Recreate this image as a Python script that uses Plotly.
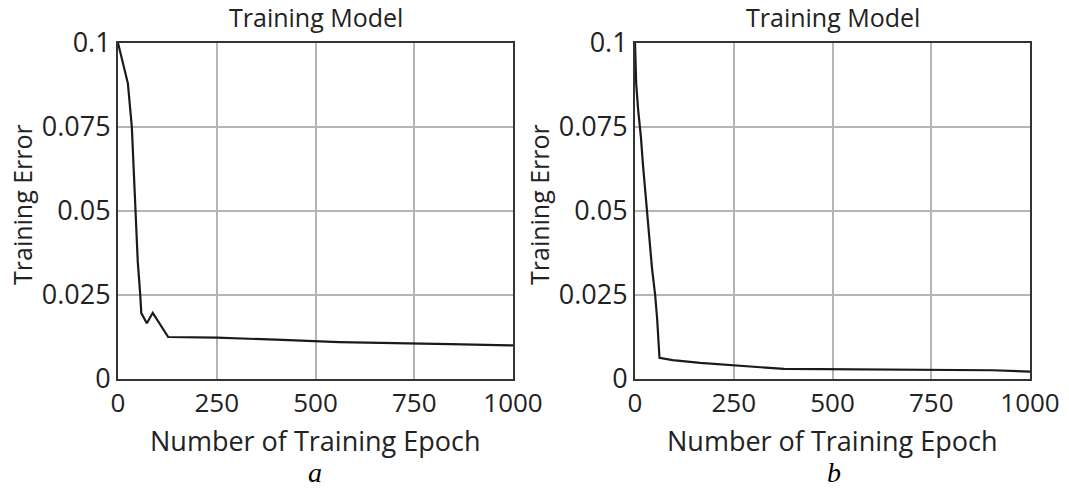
import plotly.graph_objects as go

# ---- data ----
epochs_a = [0, 10, 25, 35, 41, 46, 50, 56, 59, 73, 88, 127, 250, 400, 560, 840, 1000]
error_a = [0.1, 0.095, 0.088, 0.075, 0.0587, 0.047, 0.035, 0.0256, 0.0196, 0.0166, 0.0197,
           0.0125, 0.0123, 0.0117, 0.0110, 0.0104, 0.0100]

epochs_b = [0, 3, 8, 15, 20, 30, 43, 51, 56, 62, 95, 165, 235, 306, 377, 904, 1000]
error_b = [0.1, 0.088, 0.080, 0.072, 0.064, 0.050, 0.033, 0.025, 0.018, 0.0063,
           0.0056, 0.0048, 0.0042, 0.0038, 0.0030, 0.0026, 0.0022]

x_ticks = [0, 250, 500, 750, 1000]
x_ticktext = ["0", "250", "500", "750", "1000"]
y_ticks = [0, 0.025, 0.05, 0.075, 0.1]
y_ticktext = ["0", "0.025", "0.05", "0.075", "0.1"]

panel_title = "Training Model"
x_title = "Number of Training Epoch"
y_title = "Training Error"
captions = ["a", "b"]

W, H = 1069, 488
FONT = "Open Sans"
TXT = "#222222"

fig = go.Figure()
fig.add_trace(go.Scatter(x=epochs_a, y=error_a, mode="lines", xaxis="x", yaxis="y",
                         line=dict(color="#1a1a1a", width=2.2), showlegend=False))
fig.add_trace(go.Scatter(x=epochs_b, y=error_b, mode="lines", xaxis="x2", yaxis="y2",
                         line=dict(color="#1a1a1a", width=2.2), showlegend=False))

def px(v):
    return v / W

def py(v):
    return 1 - v / H

dom_a = [px(118), px(513)]
dom_b = [px(635), px(1030)]
ydom = [py(379), py(43)]

axis_common = dict(showgrid=True, gridcolor="#b4b4b4", gridwidth=1.5,
                   showline=True, linecolor="#333333", linewidth=2, mirror=True,
                   zeroline=False, ticks="", automargin=False)

fig.update_layout(
    width=W, height=H,
    margin=dict(l=0, r=0, t=0, b=0, pad=0, autoexpand=False),
    paper_bgcolor="white", plot_bgcolor="white",
    xaxis=dict(domain=dom_a, range=[0, 1000], tickvals=x_ticks, ticktext=x_ticktext,
               anchor="y", ticklabelstandoff=0,
               tickfont=dict(family=FONT, size=26, color=TXT), **axis_common),
    yaxis=dict(domain=ydom, range=[0, 0.1], tickvals=y_ticks, ticktext=y_ticktext,
               anchor="x", tickfont=dict(family=FONT, size=27, color=TXT), **axis_common),
    xaxis2=dict(domain=dom_b, range=[0, 1000], tickvals=x_ticks, ticktext=x_ticktext,
                anchor="y2", ticklabelstandoff=0,
                tickfont=dict(family=FONT, size=26, color=TXT), **axis_common),
    yaxis2=dict(domain=ydom, range=[0, 0.1], tickvals=y_ticks, ticktext=y_ticktext,
                anchor="x2", tickfont=dict(family=FONT, size=27, color=TXT), **axis_common),
)

annots = []
for cx, ylab_x, cap_x, cap in [(315.5, 22, 315, captions[0]), (832.5, 539, 834, captions[1])]:
    annots.append(dict(text=panel_title, x=px(cx), y=py(17), xref="paper", yref="paper",
                       showarrow=False, font=dict(family=FONT, size=25, color=TXT),
                       xanchor="center", yanchor="middle"))
    annots.append(dict(text=x_title, x=px(cx), y=py(440), xref="paper", yref="paper",
                       showarrow=False, font=dict(family=FONT, size=27, color=TXT),
                       xanchor="center", yanchor="middle"))
    annots.append(dict(text=y_title, x=px(ylab_x), y=py(205), xref="paper", yref="paper",
                       showarrow=False, textangle=-90, font=dict(family=FONT, size=25, color=TXT),
                       xanchor="center", yanchor="middle"))
    annots.append(dict(text="<i>" + cap + "</i>", x=px(cap_x), y=py(472), xref="paper", yref="paper",
                       showarrow=False, font=dict(family="Liberation Serif", size=28, color="#000000"),
                       xanchor="center", yanchor="middle"))
fig.update_layout(annotations=annots)

fig.write_html("out.html", config={"displayModeBar": False},
               post_script="document.body.style.margin='0';document.body.style.overflow='hidden';")
